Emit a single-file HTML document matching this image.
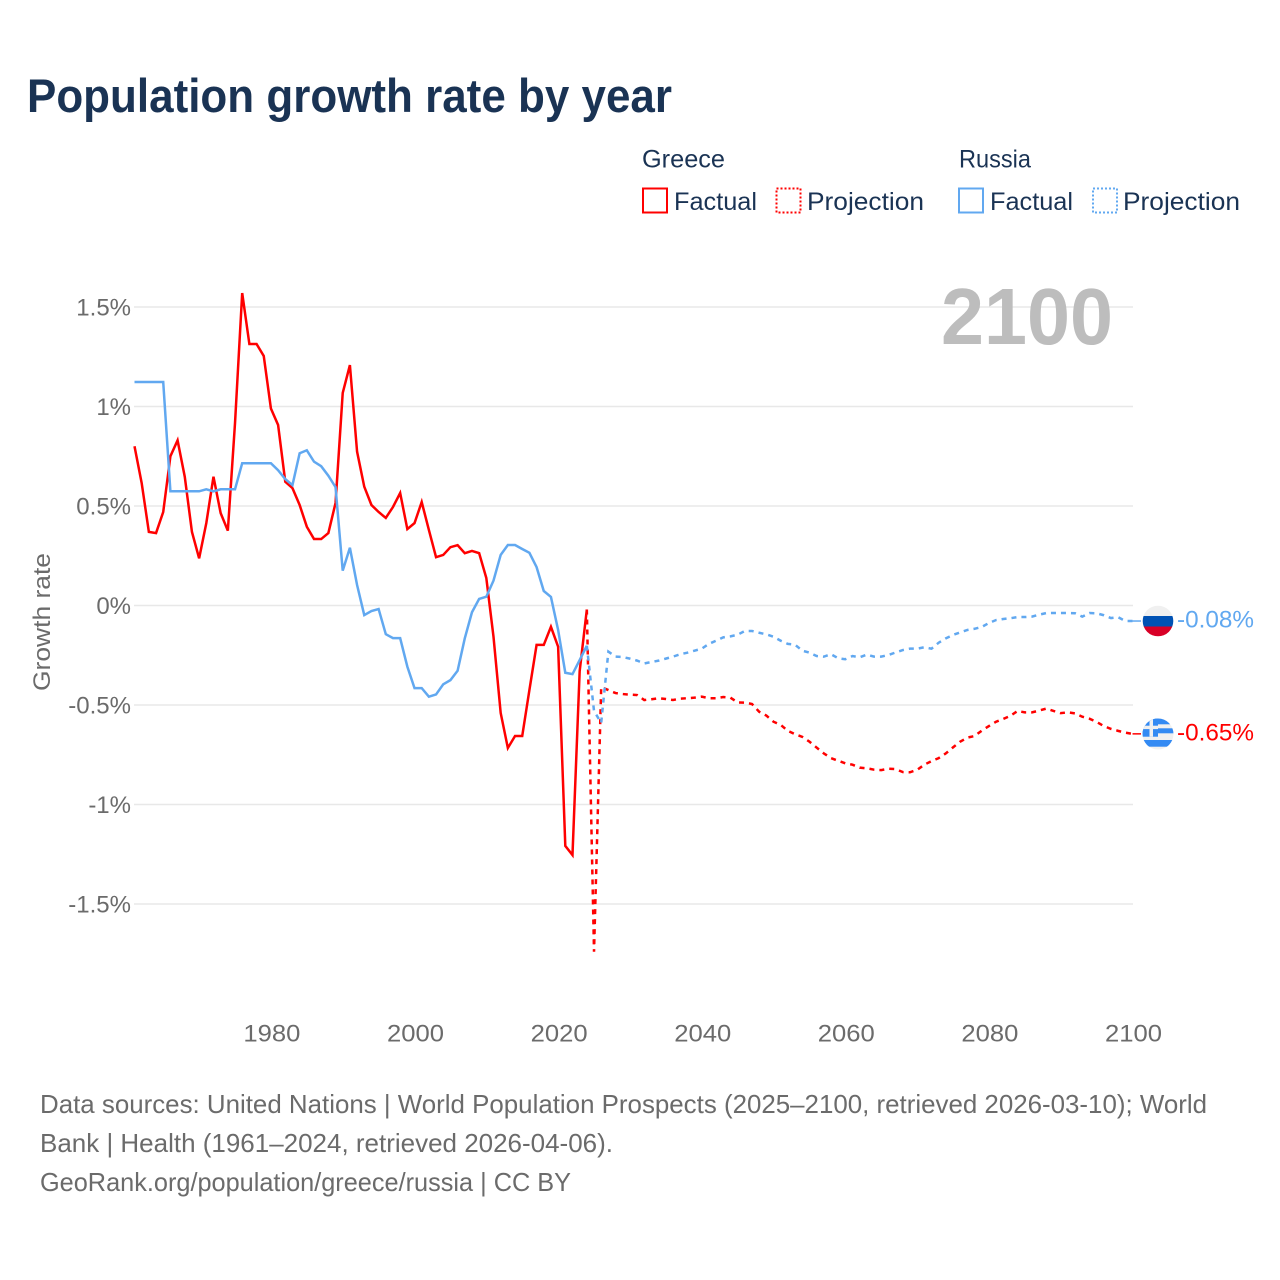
<!DOCTYPE html>
<html lang="en">
<head>
<meta charset="utf-8">
<title>Population growth rate by year</title>
<style>
html,body{margin:0;padding:0;background:#fff;}
svg{display:block;font-family:"Liberation Sans",sans-serif;}
</style>
</head>
<body>
<svg id="chart" xmlns="http://www.w3.org/2000/svg" width="1280" height="1280" viewBox="0 0 1280 1280">
  <defs>
    <clipPath id="clip-ru"><circle cx="1158" cy="621" r="15.3"/></clipPath>
    <clipPath id="clip-gr"><circle cx="1158" cy="734" r="15.5"/></clipPath>
  </defs>
  <text x="27" y="112" font-size="47" font-weight="700" fill="#1a3354" textLength="645" lengthAdjust="spacingAndGlyphs">Population growth rate by year</text>

  <g font-size="25" fill="#1a3354">
    <text x="642" y="167.5" textLength="83" lengthAdjust="spacingAndGlyphs">Greece</text>
    <rect x="643" y="188.5" width="24" height="24" fill="none" stroke="#ff0000" stroke-width="2"/>
    <text x="674" y="210" textLength="83" lengthAdjust="spacingAndGlyphs">Factual</text>
    <rect x="776.5" y="188.5" width="24" height="24" fill="none" stroke="#ff0000" stroke-width="2" stroke-dasharray="2 2"/>
    <text x="807" y="210" textLength="117" lengthAdjust="spacingAndGlyphs">Projection</text>
    <text x="959" y="167.5" textLength="72" lengthAdjust="spacingAndGlyphs">Russia</text>
    <rect x="959" y="188.5" width="24" height="24" fill="none" stroke="#61a8f0" stroke-width="2"/>
    <text x="990" y="210" textLength="83" lengthAdjust="spacingAndGlyphs">Factual</text>
    <rect x="1093" y="188.5" width="24" height="24" fill="none" stroke="#61a8f0" stroke-width="2" stroke-dasharray="2 2"/>
    <text x="1123" y="210" textLength="117" lengthAdjust="spacingAndGlyphs">Projection</text>
  </g>

  <g id="grid"></g>
  <g id="yticks" font-size="24" fill="#6b6b6b" text-anchor="end"></g>
  <g id="xticks" font-size="24" fill="#6b6b6b" text-anchor="middle"></g>
  <text transform="translate(50,622) rotate(-90)" text-anchor="middle" font-size="24" fill="#6b6b6b" textLength="138" lengthAdjust="spacingAndGlyphs">Growth rate</text>
  <text x="1113" y="344" text-anchor="end" font-size="80" font-weight="700" fill="#bdbdbd" textLength="172" lengthAdjust="spacingAndGlyphs">2100</text>

  <g id="series"></g>

  <g clip-path="url(#clip-ru)">
    <rect x="1142" y="605" width="32" height="11" fill="#f0f0f0"/>
    <rect x="1142" y="616" width="32" height="10.5" fill="#0052b4"/>
    <rect x="1142" y="626.5" width="32" height="11" fill="#d80027"/>
  </g>
  <g clip-path="url(#clip-gr)">
    <rect x="1142" y="718" width="32" height="33" fill="#f0f0f0"/>
    <rect x="1142" y="718" width="32" height="6.3" fill="#338af3"/>
    <rect x="1142" y="728.3" width="32" height="5" fill="#338af3"/>
    <rect x="1142" y="740" width="32" height="6.7" fill="#338af3"/>
    <rect x="1142" y="718" width="16" height="18.7" fill="#338af3"/>
    <rect x="1142" y="725.7" width="16" height="3.4" fill="#f0f0f0"/>
    <rect x="1149.5" y="718" width="3.5" height="18.7" fill="#f0f0f0"/>
  </g>
  <g id="endlabels" font-size="24"></g>

  <g font-size="26" fill="#6b6b6b">
    <text x="40" y="1113" textLength="1167" lengthAdjust="spacingAndGlyphs">Data sources: United Nations | World Population Prospects (2025–2100, retrieved 2026-03-10); World</text>
    <text x="40" y="1152" textLength="573" lengthAdjust="spacingAndGlyphs">Bank | Health (1961–2024, retrieved 2026-04-06).</text>
    <text x="40" y="1191" textLength="531" lengthAdjust="spacingAndGlyphs">GeoRank.org/population/greece/russia | CC BY</text>
  </g>
</svg>
<script>
var yTickValues = [1.5, 1, 0.5, 0, -0.5, -1, -1.5];
var yTickLabels = ["1.5%", "1%", "0.5%", "0%", "-0.5%", "-1%", "-1.5%"];
var xTickYears = [1980, 2000, 2020, 2040, 2060, 2080, 2100];
var factualStartYear = 1961;
var projectionStartYear = 2024;
var greeceFactual = [0.80,0.615,0.37,0.364,0.47,0.75,0.83,0.647,0.37,0.237,0.414,0.647,0.464,0.376,0.917,1.57,1.314,1.314,1.254,0.99,0.907,0.622,0.59,0.505,0.396,0.334,0.334,0.364,0.515,1.068,1.208,0.773,0.597,0.505,0.47,0.44,0.495,0.565,0.384,0.414,0.52,0.38,0.243,0.254,0.293,0.303,0.263,0.274,0.263,0.138,-0.157,-0.54,-0.716,-0.656,-0.656,-0.425,-0.198,-0.198,-0.107,-0.207,-1.208,-1.254,-0.33,-0.02];
var russiaFactual = [1.123,1.123,1.123,1.123,1.123,0.574,0.574,0.574,0.574,0.574,0.584,0.574,0.584,0.584,0.584,0.715,0.715,0.715,0.715,0.715,0.68,0.635,0.605,0.765,0.78,0.723,0.70,0.652,0.595,0.175,0.29,0.103,-0.048,-0.028,-0.018,-0.144,-0.164,-0.164,-0.307,-0.415,-0.415,-0.458,-0.447,-0.396,-0.375,-0.328,-0.165,-0.034,0.033,0.044,0.125,0.254,0.304,0.304,0.284,0.265,0.193,0.073,0.043,-0.123,-0.338,-0.345,-0.274,-0.202];
var greeceProjection = [-0.02,-1.74,-0.41,-0.425,-0.44,-0.445,-0.448,-0.45,-0.475,-0.471,-0.466,-0.47,-0.475,-0.468,-0.466,-0.463,-0.458,-0.466,-0.466,-0.46,-0.463,-0.487,-0.488,-0.495,-0.534,-0.553,-0.584,-0.60,-0.63,-0.647,-0.66,-0.684,-0.714,-0.743,-0.767,-0.78,-0.793,-0.80,-0.815,-0.818,-0.825,-0.827,-0.82,-0.822,-0.837,-0.838,-0.826,-0.80,-0.782,-0.767,-0.743,-0.713,-0.684,-0.664,-0.656,-0.629,-0.606,-0.584,-0.57,-0.554,-0.53,-0.537,-0.537,-0.528,-0.518,-0.53,-0.541,-0.537,-0.542,-0.559,-0.569,-0.585,-0.606,-0.62,-0.63,-0.639,-0.645];
var russiaProjection = [-0.202,-0.53,-0.59,-0.232,-0.257,-0.259,-0.267,-0.277,-0.291,-0.284,-0.277,-0.267,-0.257,-0.245,-0.237,-0.227,-0.217,-0.193,-0.177,-0.16,-0.155,-0.147,-0.128,-0.128,-0.137,-0.145,-0.157,-0.177,-0.193,-0.197,-0.227,-0.237,-0.254,-0.257,-0.245,-0.265,-0.27,-0.254,-0.26,-0.247,-0.257,-0.257,-0.249,-0.236,-0.224,-0.217,-0.217,-0.21,-0.217,-0.187,-0.165,-0.148,-0.135,-0.123,-0.117,-0.108,-0.088,-0.073,-0.068,-0.064,-0.058,-0.058,-0.056,-0.046,-0.038,-0.038,-0.038,-0.038,-0.039,-0.056,-0.038,-0.039,-0.049,-0.063,-0.059,-0.078,-0.078];
var endLabelGreece = "-0.65%";
var endLabelRussia = "-0.08%";

var NS = "http://www.w3.org/2000/svg";
var RED = "#ff0000";
var BLUE = "#61a8f0";
var xScale = function (year) { return 134.5 + (year - 1961) * 7.18; };
var yScale = function (v) { return 605.5 - v * 199; };

function make(tag, attrs, parent, text) {
  var el = document.createElementNS(NS, tag);
  for (var k in attrs) { el.setAttribute(k, attrs[k]); }
  if (text !== undefined) { el.textContent = text; }
  parent.appendChild(el);
  return el;
}

function linePath(values, startYear) {
  return values.map(function (v, i) {
    return (i ? "L" : "M") + xScale(startYear + i).toFixed(2) + " " + yScale(v).toFixed(2);
  }).join(" ");
}

var gridGroup = document.getElementById("grid");
var yTickGroup = document.getElementById("yticks");
var xTickGroup = document.getElementById("xticks");
var seriesGroup = document.getElementById("series");
var endLabelGroup = document.getElementById("endlabels");

yTickValues.forEach(function (v, i) {
  var y = yScale(v);
  var gl = make("line", { x1: 134, x2: 1133, y1: y, y2: y, stroke: "#e8e8e8", "stroke-width": 1.5 }, gridGroup);
  
  
  var tl = make("text", { x: 131, y: y + 8.5 }, yTickGroup, yTickLabels[i]);
  
  
});

xTickYears.forEach(function (year) {
  var tl = make("text", { x: xScale(year) + 1, y: 1041.5, textLength: 57, lengthAdjust: "spacingAndGlyphs" }, xTickGroup, String(year));
  
  
});

function addLine(values, startYear, color, dashed, name) {
  var attrs = { d: linePath(values, startYear), fill: "none", stroke: color, "stroke-width": 2.5, "stroke-linejoin": "miter" };
  if (dashed) { attrs["stroke-dasharray"] = "5 5"; }
  var p = make("path", attrs, seriesGroup);
  
  
}

addLine(greeceProjection, projectionStartYear, RED, true, 'line-greece-projection');
addLine(greeceFactual, factualStartYear, RED, false, 'line-greece-factual');
addLine(russiaProjection, projectionStartYear, BLUE, true, 'line-russia-projection');
addLine(russiaFactual, factualStartYear, BLUE, false, 'line-russia-factual');

function addConnector(lastValue, color, name) {
  var y = yScale(lastValue);
  var c = make("line", { x1: xScale(2100), x2: 1141, y1: y, y2: y, stroke: color, "stroke-width": 1.5 }, seriesGroup);
  
  
}
addConnector(greeceProjection[greeceProjection.length - 1], RED, 'connector-greece');
addConnector(russiaProjection[russiaProjection.length - 1], BLUE, 'connector-russia');

var ruLabel = make("text", { x: 1177, y: 627.5, fill: BLUE, textLength: 77, lengthAdjust: "spacingAndGlyphs" }, endLabelGroup, endLabelRussia);


var grLabel = make("text", { x: 1177, y: 740.5, fill: RED, textLength: 77, lengthAdjust: "spacingAndGlyphs" }, endLabelGroup, endLabelGreece);


</script>
</body>
</html>
